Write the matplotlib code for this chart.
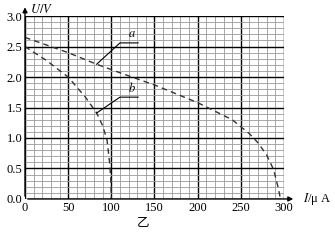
import numpy as np
import matplotlib.pyplot as plt

plt.rcParams['font.family'] = ['Liberation Serif', 'Noto Sans CJK SC', 'DejaVu Sans']
plt.rcParams['mathtext.fontset'] = 'stix'

# curve a (I in uA, U in V)
a_i = [0, 50, 83, 110, 150, 200, 240, 260, 270, 280, 288, 293, 296]
a_u = [2.65, 2.40, 2.21, 2.07, 1.87, 1.58, 1.30, 1.07, 0.92, 0.72, 0.48, 0.20, 0.0]

# curve b
b_i = [0, 25, 50, 70, 83, 90, 95, 98, 99.5, 100]
b_u = [2.50, 2.27, 2.00, 1.67, 1.41, 1.20, 0.97, 0.60, 0.30, 0.0]

x_ticks = [0, 50, 100, 150, 200, 250, 300]
y_ticks = [0.0, 0.5, 1.0, 1.5, 2.0, 2.5, 3.0]

fig = plt.figure(figsize=(3.35, 2.4), dpi=100)
ax = fig.add_axes([0.0746, 0.171, 0.7731, 0.762])

# grid
for v in np.arange(0, 301, 10):
    major = v % 50 == 0
    ax.axvline(v, color='black' if major else '#9a9a9a', lw=1.0 if major else 0.6, zorder=1)
for v in np.arange(0, 3.01, 0.1):
    major = abs(v * 2 - round(v * 2)) < 1e-6
    ax.axhline(v, color='black' if major else '#9a9a9a', lw=1.0 if major else 0.6, zorder=1)

ax.plot(a_i, a_u, color='#333333', lw=1.0, ls=(0, (4, 3)), zorder=3)
ax.plot(b_i, b_u, color='#333333', lw=1.0, ls=(0, (4, 3)), zorder=3)

# leader lines and labels
ax.plot([83, 110, 131], [2.21, 2.56, 2.56], color='black', lw=0.8, zorder=3)
ax.text(124, 2.60, r'$a$', fontsize=9, ha='center', va='bottom')
ax.plot([83, 110, 131], [1.41, 1.67, 1.67], color='black', lw=0.8, zorder=3)
ax.text(124, 1.71, r'$b$', fontsize=9, ha='center', va='bottom')

ax.set_xlim(0, 300)
ax.set_ylim(0, 3.0)
ax.set_xticks(x_ticks)
ax.set_yticks(y_ticks)
ax.set_yticklabels([f'{v:.1f}' for v in y_ticks])
ax.tick_params(length=0, labelsize=9, pad=2)
for s in ax.spines.values():
    s.set_visible(False)

# axis arrows
ax.annotate('', xy=(0, 3.19), xytext=(0, 0), annotation_clip=False,
            arrowprops=dict(arrowstyle='-|>', color='black', lw=1.0, mutation_scale=7))
ax.annotate('', xy=(314, 0), xytext=(0, 0), annotation_clip=False,
            arrowprops=dict(arrowstyle='-|>', color='black', lw=1.0, mutation_scale=7))

ax.text(6, 3.11, r'$U/V$', fontsize=9, ha='left', va='center')
ax.text(322, 0.0, r'$I$/μ A', fontsize=9, ha='left', va='center')

fig.text(0.427, 0.07, '乙', fontsize=9, ha='center', va='center')

fig.savefig('out.png', dpi=100)
